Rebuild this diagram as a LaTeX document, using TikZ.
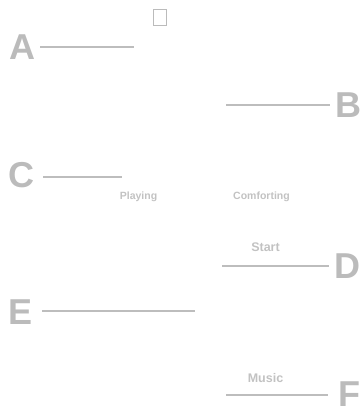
\documentclass[tikz,border=0pt]{standalone}
\usepackage{fontspec}
\setmainfont{Liberation Sans}
\definecolor{lettergray}{HTML}{BBBBBB}
\definecolor{labelgray}{HTML}{C2C2C2}
\definecolor{linegray}{HTML}{BDBDBD}
\begin{document}
\begin{tikzpicture}[x=1pt,y=-1pt,
  letter/.style={font=\bfseries\fontsize{36}{36}\selectfont, text=lettergray, inner sep=5pt},
  smalllabel/.style={font=\bfseries\fontsize{10.5}{12}\selectfont, text=labelgray, inner sep=0pt},
  biglabel/.style={font=\bfseries\fontsize{12.5}{14}\selectfont, text=labelgray, inner sep=0pt},
  ln/.style={draw=linegray, line width=2.4pt},
  tofu/.style={draw=lettergray, line width=1pt, minimum width=13pt, minimum height=16pt, inner sep=0pt}]
\useasboundingbox (0,0) rectangle (362,407);
\node[tofu] (box) at (159.5,17) {};
\node[letter] (A) at (22,47) {A};
\coordinate (a1) at (134,47);
\draw[ln] (A) -- (a1);
\node[letter] (B) at (348,105) {B};
\coordinate (b1) at (226,105);
\draw[ln] (b1) -- (B);
\node[letter] (C) at (21,175) {C};
\coordinate (c1) at (122,177);
\draw[ln, shorten <=4pt] (C.east |- c1) -- (c1);
\node[smalllabel] (play) at (138.5,197) {Playing};
\node[smalllabel] (comf) at (261.5,197) {Comforting};
\node[biglabel] (start) at (265.5,247) {Start};
\node[letter] (D) at (347,266) {D};
\coordinate (d1) at (222,266);
\draw[ln] (d1) -- (D);
\node[letter] (E) at (21,312) {E};
\coordinate (e1) at (195,311);
\draw[ln, shorten <=4pt] (E.east |- e1) -- (e1);
\node[biglabel] (music) at (265.5,378) {Music};
\node[letter] (F) at (349,394) {F};
\coordinate (f1) at (226,395);
\draw[ln, shorten >=5pt] (f1) -- (F.west |- f1);
\end{tikzpicture}
\end{document}
